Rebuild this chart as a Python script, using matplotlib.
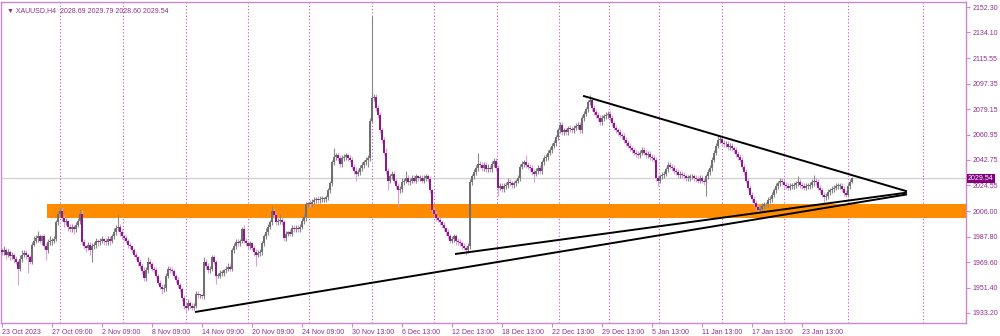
import numpy as np
import matplotlib
matplotlib.use("Agg")
import matplotlib.pyplot as plt
import matplotlib.transforms as mtransforms

plt.rcParams["font.family"] = ["Liberation Sans", "DejaVu Sans"]

# H4 closes (one value per bar)
closes = [
    1977, 1978, 1975, 1977, 1974, 1975, 1972, 1970, 1965, 1972, 1975, 1976, 1975, 1973, 1970, 1982, 1985, 1987, 1988, 1985,
    1988, 1981, 1978, 1984, 1985, 1985, 1986, 1998, 2004, 2006, 2001, 1998, 1999, 1995, 1993, 1995, 1993, 1996, 1999, 2004,
    1984, 1981, 1980, 1982, 1978, 1981, 1982, 1985, 1984, 1985, 1986, 1985, 1984, 1986, 1985, 1988, 1991, 1994, 1995, 1991,
    1988, 1987, 1985, 1982, 1981, 1978, 1975, 1973, 1970, 1967, 1963, 1958, 1964, 1970, 1968, 1965, 1964, 1960, 1955, 1952,
    1950, 1951, 1960, 1965, 1964, 1963, 1960, 1957, 1953, 1950, 1944, 1938, 1937, 1940, 1938, 1937, 1938, 1947, 1946, 1946,
    1945, 1970, 1967, 1964, 1965, 1973, 1970, 1960, 1960, 1962, 1962, 1964, 1965, 1966, 1965, 1978, 1981, 1984, 1983, 1985,
    1993, 1985, 1983, 1981, 1983, 1980, 1977, 1975, 1976, 1977, 1983, 1988, 1991, 1995, 1998, 2006, 2003, 1998, 1999, 2000,
    1998, 1987, 1990, 1991, 1990, 1994, 1993, 1994, 1993, 1995, 1999, 2002, 2011, 2012, 2011, 2013, 2014, 2015, 2014, 2015,
    2015, 2015, 2016, 2021, 2026, 2041, 2045, 2046, 2044, 2040, 2044, 2045, 2046, 2044, 2043, 2038, 2035, 2033, 2034, 2037,
    2039, 2041, 2043, 2044, 2071, 2087, 2088, 2080, 2075, 2064, 2057, 2048, 2035, 2028, 2031, 2033, 2028, 2024, 2021, 2022,
    2027, 2028, 2030, 2027, 2028, 2030, 2028, 2031, 2030, 2030, 2028, 2030, 2031, 2029, 2021, 2007, 2004, 2001, 2000, 1998,
    1996, 1994, 1991, 1988, 1985, 1986, 1988, 1985, 1984, 1983, 1981, 1980, 1978, 1981, 2027, 2031, 2034, 2037, 2040, 2039,
    2037, 2039, 2036, 2037, 2036, 2040, 2042, 2037, 2023, 2024, 2022, 2024, 2025, 2027, 2026, 2025, 2026, 2028, 2030, 2038,
    2040, 2041, 2039, 2038, 2037, 2034, 2033, 2035, 2037, 2035, 2041, 2044, 2045, 2048, 2050, 2053, 2055, 2059, 2064, 2068,
    2063, 2064, 2063, 2066, 2065, 2064, 2066, 2067, 2068, 2064, 2073, 2076, 2079, 2084, 2086, 2080, 2077, 2075, 2073, 2070,
    2073, 2074, 2075, 2076, 2073, 2069, 2066, 2064, 2063, 2061, 2060, 2057, 2055, 2053, 2051, 2050, 2048, 2047, 2046, 2048,
    2050, 2048, 2046, 2047, 2045, 2044, 2043, 2030, 2028, 2031, 2032, 2033, 2036, 2039, 2038, 2037, 2035, 2034, 2032, 2033,
    2032, 2031, 2030, 2030, 2031, 2031, 2030, 2029, 2028, 2030, 2028, 2027, 2031, 2034, 2037, 2043, 2048, 2053, 2057, 2058,
    2055, 2054, 2054, 2052, 2053, 2051, 2050, 2047, 2045, 2043, 2038, 2034, 2028, 2023, 2018, 2015, 2012, 2009, 2007, 2008,
    2010, 2011, 2011, 2014, 2015, 2018, 2021, 2024, 2026, 2028, 2027, 2025, 2024, 2023, 2024, 2024, 2025, 2026, 2027, 2025,
    2024, 2023, 2024, 2024, 2025, 2027, 2028, 2027, 2023, 2021, 2018, 2016, 2017, 2020, 2021, 2022, 2023, 2024, 2024, 2024,
    2022, 2019, 2018, 2024, 2027, 2029.54,
]
first_open = 1978

# wick length above / below the body of each bar
upper_wick = [
    2, 3, 2, 2, 1, 2, 1, 2, 1, 3, 3, 2, 2, 1, 2, 2, 3, 2, 4, 2,
    1, 2, 2, 2, 3, 2, 2, 2, 2, 3, 3, 2, 2, 1, 2, 2, 1, 2, 2, 4,
    3, 2, 1, 2, 2, 2, 2, 2, 1, 2, 2, 1, 2, 2, 2, 2, 3, 2, 9, 2,
    2, 2, 2, 1, 2, 1, 2, 2, 1, 2, 2, 3, 2, 3, 2, 2, 2, 2, 1, 2,
    2, 3, 2, 2, 2, 2, 2, 1, 2, 2, 2, 2, 2, 3, 2, 2, 2, 2, 2, 1,
    1, 3, 2, 2, 2, 2, 2, 1, 2, 2, 2, 1, 2, 3, 2, 2, 2, 2, 2, 1,
    2, 3, 2, 2, 2, 1, 2, 2, 2, 2, 2, 2, 3, 2, 2, 4, 2, 2, 2, 4,
    2, 2, 2, 1, 2, 2, 2, 2, 2, 2, 2, 2, 2, 1, 2, 2, 2, 1, 2, 2,
    2, 1, 2, 2, 2, 2, 6, 2, 2, 2, 2, 2, 2, 1, 2, 2, 2, 3, 2, 2,
    2, 2, 2, 2, 2, 59, 2, 2, 2, 2, 2, 2, 3, 2, 2, 2, 2, 2, 2, 2,
    3, 2, 5, 2, 2, 2, 2, 2, 1, 2, 2, 2, 2, 2, 2, 1, 2, 2, 2, 2,
    2, 2, 1, 2, 2, 2, 2, 2, 2, 2, 2, 2, 1, 2, 2, 2, 2, 2, 8, 2,
    2, 2, 2, 3, 2, 2, 2, 2, 2, 2, 2, 2, 2, 3, 2, 2, 2, 1, 2, 2,
    2, 2, 5, 2, 2, 2, 2, 2, 2, 2, 2, 2, 2, 2, 2, 2, 2, 2, 2, 2,
    2, 2, 2, 1, 2, 2, 2, 2, 2, 2, 2, 2, 2, 2, 3, 2, 2, 2, 2, 2,
    2, 2, 2, 2, 2, 2, 2, 2, 2, 2, 2, 2, 2, 2, 2, 2, 1, 2, 2, 2,
    2, 2, 2, 2, 2, 2, 2, 2, 2, 2, 2, 2, 2, 2, 2, 2, 2, 2, 2, 2,
    2, 2, 2, 2, 2, 2, 2, 2, 2, 2, 2, 2, 2, 2, 2, 2, 2, 2, 4, 2,
    2, 2, 2, 2, 2, 2, 2, 2, 2, 2, 2, 2, 2, 2, 2, 2, 2, 2, 2, 2,
    2, 2, 2, 2, 2, 2, 2, 2, 2, 2, 2, 2, 2, 2, 2, 2, 2, 2, 4, 2,
    2, 2, 2, 2, 2, 2, 4, 2, 2, 2, 2, 2, 2, 2, 2, 2, 2, 2, 2, 2,
    2, 2, 2, 2, 2, 1,
]
lower_wick = [
    2, 2, 3, 2, 3, 2, 3, 2, 12, 2, 2, 2, 3, 11, 2, 2, 1, 2, 3, 2,
    3, 2, 7, 2, 2, 3, 2, 1, 2, 2, 2, 3, 2, 3, 2, 2, 3, 2, 1, 2,
    2, 2, 3, 2, 3, 8, 2, 2, 3, 2, 2, 3, 2, 2, 3, 2, 2, 2, 2, 3,
    2, 2, 2, 2, 2, 2, 2, 2, 3, 2, 2, 2, 2, 2, 2, 2, 2, 2, 2, 2,
    3, 2, 2, 2, 2, 2, 2, 2, 2, 2, 2, 2, 3, 2, 2, 2, 2, 1, 2, 2,
    2, 2, 2, 2, 2, 2, 2, 6, 2, 2, 2, 2, 2, 2, 2, 2, 2, 2, 2, 2,
    2, 2, 2, 2, 2, 2, 3, 8, 2, 2, 2, 2, 2, 2, 2, 2, 2, 2, 2, 2,
    2, 2, 2, 2, 2, 2, 2, 2, 2, 2, 2, 2, 3, 2, 2, 2, 2, 2, 2, 2,
    2, 2, 2, 2, 2, 2, 2, 2, 2, 2, 2, 2, 2, 2, 2, 2, 2, 5, 2, 2,
    2, 2, 2, 5, 2, 2, 2, 2, 2, 2, 2, 2, 2, 7, 2, 2, 2, 2, 12, 2,
    2, 2, 2, 2, 2, 2, 2, 2, 2, 2, 2, 2, 2, 2, 2, 2, 2, 2, 2, 2,
    2, 2, 2, 2, 2, 2, 2, 3, 2, 2, 2, 2, 3, 2, 2, 2, 2, 2, 2, 2,
    2, 2, 2, 2, 2, 2, 2, 2, 6, 2, 2, 2, 2, 2, 2, 2, 2, 2, 2, 2,
    2, 2, 2, 2, 2, 2, 6, 2, 2, 2, 2, 2, 2, 2, 2, 2, 2, 2, 2, 2,
    2, 2, 2, 2, 2, 2, 2, 2, 2, 2, 2, 2, 2, 2, 2, 2, 2, 2, 2, 2,
    2, 2, 2, 2, 2, 2, 2, 2, 2, 2, 2, 2, 2, 2, 2, 2, 2, 2, 2, 2,
    2, 2, 2, 2, 2, 2, 2, 2, 4, 2, 2, 2, 2, 2, 2, 2, 2, 2, 2, 2,
    2, 2, 2, 2, 2, 2, 2, 2, 2, 2, 2, 2, 10, 2, 2, 2, 2, 2, 2, 2,
    2, 2, 2, 2, 2, 2, 2, 2, 2, 2, 2, 2, 2, 2, 2, 2, 2, 2, 3, 2,
    2, 2, 2, 2, 2, 2, 2, 2, 2, 2, 2, 2, 2, 2, 2, 2, 2, 2, 2, 2,
    2, 2, 2, 2, 2, 2, 3, 2, 2, 2, 2, 3, 2, 2, 2, 2, 2, 2, 2, 2,
    2, 2, 2, 2, 2, 1,
]

date_labels = ["23 Oct 2023", "27 Oct 09:00", "2 Nov 09:00", "8 Nov 09:00", "14 Nov 09:00",
               "20 Nov 09:00", "24 Nov 09:00", "30 Nov 13:00", "6 Dec 13:00", "12 Dec 13:00",
               "18 Dec 13:00", "22 Dec 13:00", "29 Dec 13:00", "5 Jan 13:00", "11 Jan 13:00",
               "17 Jan 13:00", "23 Jan 13:00"]
date_bars = [0, 25, 50, 75, 100, 125, 150, 175, 200, 225, 250, 275, 300, 325, 350, 375, 400]
week_starts = [29, 60.5, 92, 123, 153.5, 185, 216, 247.5, 278.5, 303.5, 328.5, 360, 391, 423, 460.5]
price_ticks = [2152.30, 2134.10, 2115.55, 2097.35, 2079.15, 2060.95, 2042.75, 2024.55,
               2006.00, 1987.80, 1969.60, 1951.40, 1933.20]
last_price = 2029.54
zone_low, zone_high, zone_start = 2001.3, 2011.3, 22.5
# trend lines: (bar, price) -> (bar, price)
trend_lines = [((291, 2088.5), (452, 2020.5)),
               ((97, 1934.0), (452, 2018.0)),
               ((227, 1975.5), (452, 2019.3))]

purple = "#8e2e8e"
frame = "#cc88cc"
fs = 5.0

c = np.array(closes, dtype=float)
o = np.concatenate([[first_open], c[:-1]])
hi = np.maximum(o, c) + np.array(upper_wick)
lo = np.minimum(o, c) - np.array(lower_wick)
x = np.arange(len(c))
up = c >= o

fig = plt.figure(figsize=(10, 3.36), dpi=100)
ax = fig.add_axes([0.001, 1 - 323 / 336, 0.965, 321 / 336])

ax.set_xlim(-0.5, 482)
ax.set_ylim(1926.0, 2155.9)

for wx in week_starts:
    ax.axvline(wx, color="#c050c0", lw=0.8, ls=(0, (1, 2)), zorder=0)
ax.axhline(last_price, color="#d0d0d0", lw=0.9, zorder=0)

ax.fill_between([zone_start, 482], zone_low, zone_high, color="#ff8c00", lw=0, zorder=1)

ax.vlines(x[up], lo[up], hi[up], color="#8a8a8a", lw=0.8, zorder=2)
ax.vlines(x[~up], lo[~up], hi[~up], color="#d9a0d9", lw=0.8, zorder=2)
body_h = np.maximum(np.abs(c - o), 0.5)
body_b = np.minimum(o, c)
ax.bar(x[up], body_h[up], bottom=body_b[up], width=0.8, color="#707070", lw=0, zorder=3)
ax.bar(x[~up], body_h[~up], bottom=body_b[~up], width=0.8, color="#8b1a8b", lw=0, zorder=3)

for (x0, y0), (x1, y1) in trend_lines:
    ax.plot([x0, x1], [y0, y1], color="black", lw=1.4, zorder=4)

for s in ax.spines.values():
    s.set_color(frame)
    s.set_linewidth(1)

ax.yaxis.tick_right()
ax.set_yticks(price_ticks)
ax.set_yticklabels(["%.2f" % p for p in price_ticks])
ax.set_xticks(date_bars)
ax.set_xticklabels(date_labels, ha="left")
ax.tick_params(axis="both", colors=frame, labelcolor=purple, labelsize=fs, length=3, width=0.8)
ax.tick_params(axis="x", pad=1)
ax.tick_params(axis="y", pad=1.5)

ax.text(0.006, 0.985, "\u25bc XAUUSD,H4  2028.69 2029.79 2028.60 2029.54", transform=ax.transAxes,
        fontsize=fs, color=purple, va="top", ha="left")

trans = mtransforms.blended_transform_factory(ax.transAxes, ax.transData)
ax.text(1.002, last_price, "2029.54", transform=trans, fontsize=fs, color="white",
        va="center", ha="left", bbox=dict(facecolor="#800080", edgecolor="none", pad=1.0), zorder=6)

fig.savefig("out.png", dpi=100)
